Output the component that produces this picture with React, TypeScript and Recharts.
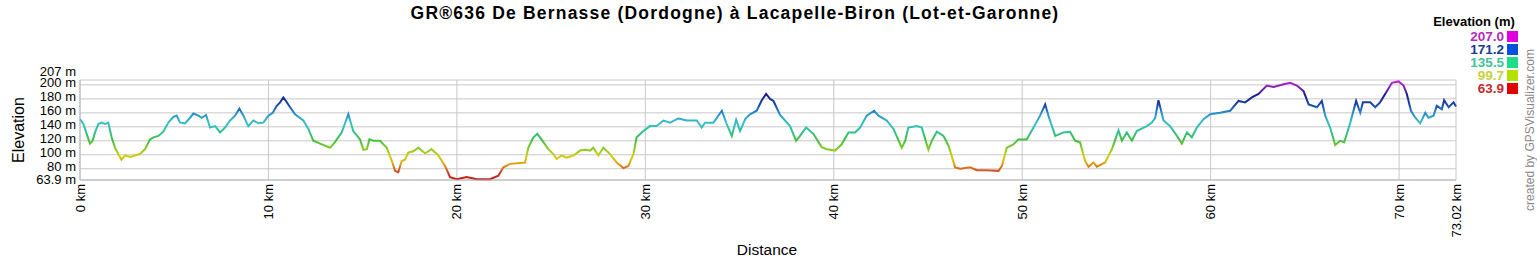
import React from 'react';
import { LineChart, Line, XAxis, YAxis, CartesianGrid } from 'recharts';

// Profile (km, m)
const distanceKm = [
  0, 0.18, 0.39, 0.53, 0.67, 0.8, 0.97, 1.15, 1.33, 1.5, 1.68, 1.86, 2.03, 2.2, 2.39, 2.65, 2.92, 3.18, 3.45, 3.72,
  3.9, 4.16, 4.42, 4.69, 4.95, 5.13, 5.31, 5.57, 5.84, 6.02, 6.28, 6.46, 6.69, 6.9, 7.17, 7.43, 7.7, 7.96, 8.23, 8.46,
  8.67, 8.93, 9.2, 9.47, 9.73, 10.0, 10.23, 10.44, 10.62, 10.79, 10.93, 11.15, 11.41, 11.85, 12.12, 12.38, 12.74, 13.27, 13.53, 13.89,
  14.24, 14.5, 14.86, 15.04, 15.22, 15.36, 15.57, 15.92, 16.28, 16.55, 16.72, 16.89, 17.07, 17.25, 17.42, 17.69, 17.95, 18.31, 18.66, 19.02,
  19.37, 19.64, 19.99, 20.52, 21.05, 21.76, 22.2, 22.47, 22.82, 23.62, 23.79, 24.06, 24.27, 24.59, 24.85, 25.12, 25.3, 25.56, 25.83, 26.18,
  26.54, 26.8, 27.07, 27.24, 27.51, 27.77, 28.13, 28.48, 28.84, 29.1, 29.37, 29.54, 29.9, 30.25, 30.6, 30.96, 31.31, 31.75, 32.2, 32.73,
  32.99, 33.17, 33.61, 34.06, 34.32, 34.59, 34.82, 35.03, 35.3, 35.56, 35.91, 36.18, 36.41, 36.62, 36.8, 37.15, 37.68, 38.0, 38.21, 38.53,
  38.92, 39.36, 39.63, 40.07, 40.42, 40.78, 41.13, 41.4, 41.75, 42.14, 42.37, 42.81, 43.17, 43.61, 43.79, 43.96, 44.41, 44.67, 45.02, 45.2,
  45.47, 45.82, 46.09, 46.44, 46.71, 47.24, 47.59, 48.12, 48.74, 48.92, 49.18, 49.54, 49.8, 50.24, 50.6, 50.95, 51.22, 51.39, 51.75, 52.19,
  52.54, 52.81, 53.07, 53.34, 53.52, 53.78, 53.96, 54.4, 54.76, 55.11, 55.29, 55.55, 55.82, 56.08, 56.61, 56.88, 57.06, 57.23, 57.5, 57.85,
  58.21, 58.47, 58.74, 59.0, 59.27, 59.62, 59.98, 60.5, 61.04, 61.48, 61.83, 62.19, 62.54, 62.98, 63.34, 63.87, 64.22, 64.58, 64.93, 65.2,
  65.64, 65.9, 66.08, 66.34, 66.61, 66.87, 67.09, 67.41, 67.72, 67.94, 68.08, 68.47, 68.73, 68.99, 69.35, 69.62, 69.97, 70.24, 70.41, 70.63,
  70.86, 71.12, 71.39, 71.56, 71.83, 72.0, 72.27, 72.39, 72.63, 72.89, 73.02,
];
const elevationM = [
  151, 144, 127, 116, 120, 132, 144, 146, 144, 146, 125, 110, 101, 93, 99, 97, 99, 101, 108, 122,
  125, 127, 133, 146, 154, 156, 146, 145, 153, 159, 156, 153, 157, 139, 141, 132, 139, 149, 156, 166,
  156, 141, 149, 145, 146, 156, 160, 170, 175, 182, 177, 168, 158, 149, 137, 120, 116, 110, 118, 132,
  158, 134, 122, 107, 108, 122, 120, 120, 110, 91, 77, 75, 91, 93, 103, 105, 110, 102, 108, 99,
  84, 68, 65, 68, 65, 65, 70, 82, 87, 89, 110, 125, 130, 118, 108, 101, 94, 99, 96, 99,
  106, 107, 106, 110, 99, 110, 101, 89, 81, 84, 101, 125, 134, 141, 141, 149, 146, 152, 149, 149,
  139, 146, 146, 163, 144, 127, 150, 134, 151, 158, 163, 178, 187, 180, 177, 157, 141, 120, 127, 139,
  130, 111, 108, 106, 115, 132, 132, 139, 156, 163, 156, 149, 137, 110, 120, 139, 141, 139, 107, 120,
  133, 127, 113, 82, 80, 82, 78, 78, 77, 84, 110, 115, 122, 122, 139, 156, 172, 156, 127, 132,
  133, 120, 118, 91, 83, 89, 83, 89, 108, 135, 120, 132, 120, 134, 141, 146, 153, 178, 149, 141,
  127, 116, 132, 125, 139, 151, 158, 160, 163, 177, 175, 182, 187, 199, 197, 201, 203, 199, 191, 172,
  168, 177, 156, 139, 114, 120, 118, 146, 177, 160, 175, 175, 168, 175, 191, 203, 205, 199, 187, 163,
  153, 145, 160, 153, 156, 170, 165, 178, 168, 175, 169,
];

const xTicks = [0, 10, 20, 30, 40, 50, 60, 70, 73.02];
const yTicks = [63.9, 80, 100, 120, 140, 160, 180, 200, 207];

const legendValues = ['207.0', '171.2', '135.5', '99.7', '63.9'];
const legendTextColors = ['#b52cb5', '#1c3a8e', '#3fc29a', '#c3d23c', '#c42a2a'];
const legendSwatches = ['#e000e0', '#0a4fe0', '#1fdc86', '#b4e000', '#e00000'];

const FONT = 'Arial, "Liberation Sans", Helvetica, sans-serif';

const data = distanceKm.map((d, i) => ({ d, e: elevationM[i] }));

const YTick = ({ x, y, payload }: any) => {
  const v = payload.value;
  const dy = v === 207 ? -4 : v === 63.9 ? 3.5 : 2.5;
  return (
    <text x={x - 4} y={y + dy} textAnchor="end" fontSize={13} fill="#000" fontFamily={FONT}>
      {v} m
    </text>
  );
};

const XTick = ({ x, payload }: any) => (
  <text
    transform={`translate(${x + 4.5},184) rotate(-90)`}
    textAnchor="end"
    fontSize={13}
    fill="#000"
    fontFamily={FONT}
  >
    {payload.value} km
  </text>
);

export default function App() {
  return (
    <div style={{ position: 'absolute', left: 0, top: 0, width: 1537, height: 260, background: '#fff' }}>
      <LineChart width={1537} height={260} data={data} margin={{ top: 80, right: 81, bottom: 0, left: 0 }}>
        <defs>
          <linearGradient id="elevGrad" gradientUnits="userSpaceOnUse" x1="0" y1="80" x2="0" y2="180">
            <stop offset="0" stopColor="#cc22cc" />
            <stop offset="0.08" stopColor="#7a22b0" />
            <stop offset="0.15" stopColor="#1c1c8c" />
            <stop offset="0.25" stopColor="#1848a8" />
            <stop offset="0.33" stopColor="#2a8cc8" />
            <stop offset="0.43" stopColor="#38c0c8" />
            <stop offset="0.5" stopColor="#30c0a0" />
            <stop offset="0.6" stopColor="#40c040" />
            <stop offset="0.7" stopColor="#90cc20" />
            <stop offset="0.76" stopColor="#d0d010" />
            <stop offset="0.82" stopColor="#e0b010" />
            <stop offset="0.88" stopColor="#d87020" />
            <stop offset="0.94" stopColor="#c83020" />
            <stop offset="1" stopColor="#c01818" />
          </linearGradient>
        </defs>
        <CartesianGrid stroke="#c8c8c8" />
        <XAxis
          dataKey="d"
          type="number"
          domain={[0, 73.02]}
          ticks={xTicks}
          interval={0}
          height={80}
          tick={<XTick />}
          tickLine={false}
          tickSize={0}
          axisLine={{ stroke: '#b8b8b8' }}
        />
        <YAxis
          type="number"
          domain={[63.9, 207]}
          ticks={yTicks}
          interval={0}
          width={80}
          tick={<YTick />}
          tickLine={false}
          tickSize={0}
          tickMargin={0}
          axisLine={{ stroke: '#b8b8b8' }}
        />
        <Line
          dataKey="e"
          type="linear"
          stroke="url(#elevGrad)"
          strokeWidth={2}
          dot={false}
          isAnimationActive={false}
        />
      </LineChart>
      <svg
        width={1537}
        height={260}
        style={{ position: 'absolute', left: 0, top: 0, pointerEvents: 'none' }}
        fontFamily={FONT}
      >
        <text x={735} y={19} textAnchor="middle" fontSize={17.5} letterSpacing={1.2} fontWeight="bold" fill="#000">
          GR®636 De Bernasse (Dordogne) à Lacapelle-Biron (Lot-et-Garonne)
        </text>
        <text transform="translate(24,130) rotate(-90)" textAnchor="middle" fontSize={16} fill="#000">
          Elevation
        </text>
        <text x={767} y={255} textAnchor="middle" fontSize={15.5} fill="#000">
          Distance
        </text>
        <text x={1474} y={26} textAnchor="middle" fontSize={13} fontWeight="bold" fill="#000">
          Elevation (m)
        </text>
        {legendValues.map((v, i) => (
          <g key={v}>
            <text x={1504} y={41 + i * 13} textAnchor="end" fontSize={13.5} fontWeight="bold" fill={legendTextColors[i]}>
              {v}
            </text>
            <rect x={1507} y={31 + i * 13} width={11} height={11} fill={legendSwatches[i]} />
          </g>
        ))}
        <text transform="translate(1534,130) rotate(-90)" textAnchor="middle" fontSize={12} fill="#888">
          created by GPSVisualizer.com
        </text>
      </svg>
    </div>
  );
}
